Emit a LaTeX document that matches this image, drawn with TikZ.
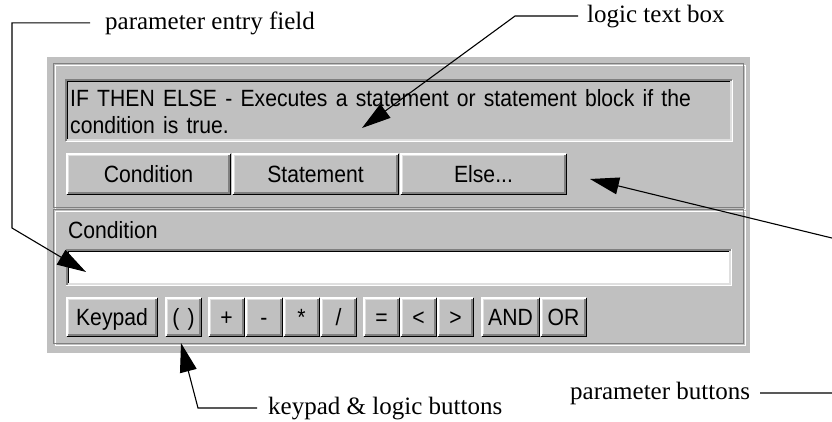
\documentclass[tikz,border=0pt]{standalone}
\usepackage{fontspec}
\setmainfont{Liberation Serif}
\newfontfamily\guifont[WordSpace=1.4,FakeStretch=0.9]{Liberation Sans}
\usetikzlibrary{arrows.meta}

\definecolor{panel}{HTML}{C0C0C0}
\definecolor{gDark}{HTML}{808080}
\definecolor{gLight}{HTML}{DFDFDF}

% one bevel ring of a node: #2 inset, #3 top/left colour, #4 bottom/right colour
\newcommand\bevel[4]{%
  \draw[line width=1.5pt,#3] ([shift={(#2,#2)}]#1.south west) -- ([shift={(#2,-#2)}]#1.north west) -- ([shift={(-#2,-#2)}]#1.north east);
  \draw[line width=1.5pt,#4] ([shift={(#2,#2)}]#1.south west) -- ([shift={(-#2,#2)}]#1.south east) -- ([shift={(-#2,-#2)}]#1.north east);}
\newcommand\raised[1]{\bevel{#1}{0.75pt}{white}{black}\bevel{#1}{2.25pt}{gLight}{gDark}}
\newcommand\sunken[1]{\bevel{#1}{0.75pt}{gDark}{white}\bevel{#1}{2.25pt}{black}{gLight}}

\tikzset{
  callout/.style={font=\fontsize{25}{30}\selectfont, inner sep=0pt, anchor=base west},
  leader/.style={line width=1.1pt, black},
  pointer/.style={leader, -{Triangle[length=29pt,width=17pt]}},
  gui/.style={font=\guifont\fontsize{23.5}{27}\selectfont, inner sep=0pt},
  guitext/.style={gui, anchor=base west},
  btn/.style={gui, fill=panel, anchor=north west, minimum height=40pt,
              text height=16.8pt, text depth=0pt, outer sep=0pt},
  wide/.style={btn, minimum height=42pt},
  boxfield/.style={anchor=north west, inner sep=0pt, outer sep=0pt},
}

\begin{document}
\begin{tikzpicture}[x=1pt, y=-1pt]
\useasboundingbox (0,0) rectangle (832,421);
\clip (0,0) rectangle (832,421);

% dialog panel
\fill[panel] (47,57) rectangle (750,353);

% etched group frames (upper: logic, lower: parameter)
\draw[white, line width=1.5pt] (55.5,65.5) rectangle (745.5,209.5);
\draw[white, line width=1.5pt] (55.5,211.5) rectangle (745.5,345.5);
\draw[gDark, line width=1.5pt] (53.5,63.5) rectangle (743.5,207.5);
\draw[gDark, line width=1.5pt] (53.5,209.5) rectangle (743.5,343.5);

% logic text box
\node[boxfield, fill=panel, minimum width=668pt, minimum height=63pt] (logicbox) at (65,79) {};
\sunken{logicbox}
\node[guitext] (line1) at (70,106) {IF THEN ELSE - Executes a statement or statement block if the};
\node[guitext] (line2) at (70,133) {condition is true.};

% parameter buttons
\node[wide, minimum width=165pt] (bCond) at (66,153) {Condition};
\node[wide, minimum width=167pt] (bStmt) at (232,153) {Statement};
\node[wide, minimum width=167pt] (bElse) at (400,153) {Else...};
\raised{bCond}\raised{bStmt}\raised{bElse}

% parameter entry
\node[guitext] (condlbl) at (68,238) {Condition};
\node[boxfield, fill=white, minimum width=666pt, minimum height=37pt] (entry) at (66,249) {};
\sunken{entry}

% keypad and logic buttons
\node[btn, minimum width=92pt] (kPad) at (66,297) {Keypad};
\node[btn, minimum width=37pt] (kPar) at (165,297) {( )};
\node[btn, minimum width=37pt] (kAdd) at (208,297) {+};
\node[btn, minimum width=38pt] (kSub) at (245,297) {-};
\node[btn, minimum width=37pt] (kMul) at (283,297) {*};
\node[btn, minimum width=37pt] (kDiv) at (320,297) {/};
\node[btn, minimum width=37pt] (kEq)  at (363,297) {=};
\node[btn, minimum width=37pt] (kLt)  at (400,297) {<};
\node[btn, minimum width=37pt] (kGt)  at (437,297) {>};
\node[btn, minimum width=59pt] (kAnd) at (481,297) {AND};
\node[btn, minimum width=47pt] (kOr)  at (540,297) {OR};
\foreach \k in {kPad,kPar,kAdd,kSub,kMul,kDiv,kEq,kLt,kGt,kAnd,kOr} {\raised{\k}}

% callouts
\coordinate (pefCorner) at (12,228);
\coordinate (pefTip) at (86,272);
\coordinate (ltbTip) at (362,128);
\coordinate (klbTip) at (181,343);
\coordinate (pbCorner) at (836,239);
\coordinate (pbTip) at (590,179);

\node[callout] (tPEF) at (105,29) {parameter entry field};
\draw[pointer] ([xshift=-15pt]tPEF.west) -| (pefCorner) -- (pefTip);

\node[callout] (tLTB) at (587,22) {logic text box};
\draw[pointer] ([xshift=-9pt]tLTB.west) -- ([xshift=-72pt]tLTB.west) -- (ltbTip);

\node[callout] (tKLB) at (268,414) {keypad \& logic buttons};
\draw[pointer] ([xshift=-11pt]tKLB.west) -- ([xshift=-70pt]tKLB.west) -- (klbTip);

\node[callout] (tPB) at (570,399) {parameter buttons};
\draw[pointer] ([xshift=10pt]tPB.east) -| (pbCorner) -- (pbTip);
\end{tikzpicture}
\end{document}
